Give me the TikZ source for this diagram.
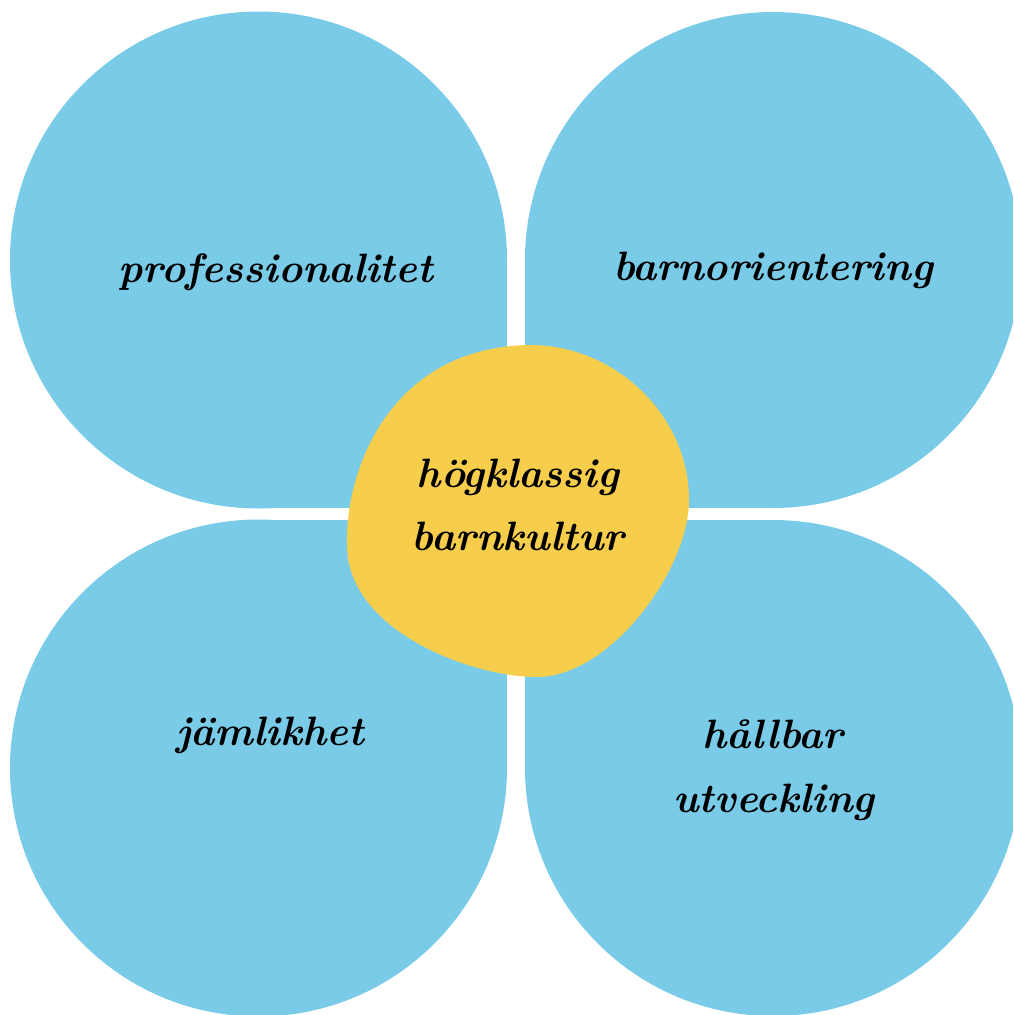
\documentclass[tikz,border=0pt]{standalone}
\definecolor{petal}{RGB}{122,203,232}
\definecolor{core}{RGB}{247,205,76}
\begin{document}
\begin{tikzpicture}[x=1pt,y=-1pt,
  lbl/.style={inner sep=0pt, anchor=base, text=black,
    font=\fontsize{41}{50}\selectfont\bfseries\itshape}]
\useasboundingbox (0,0) rectangle (1013,1015);
\clip (0,0) rectangle (1013,1015);
% petals
\fill[petal] (258.5,260) circle[radius=248.5];
\fill[petal] (258.5,260) rectangle (507,508);
\fill[petal] (773,260) circle[radius=248];
\fill[petal] (525,260) rectangle (773,508);
\fill[petal] (258.5,768) circle[radius=248.5];
\fill[petal] (258.5,520) rectangle (507,768);
\fill[petal] (773,768) circle[radius=248];
\fill[petal] (525,520) rectangle (773,768);
% centre blob
\fill[core] (530,345)
  .. controls (615,345) and (689,415) .. (689,500)
  .. controls (689,570) and (610,677) .. (537,677)
  .. controls (470,677) and (347,630) .. (347,545)
  .. controls (345,470) and (390,347) .. (530,345) -- cycle;
% labels
\node[lbl] (prof) at (276,282) {professionalitet};
\node[lbl] (barn) at (773,280) {barnorientering};
\node[lbl] (jam) at (270,745) {jämlikhet};
\node[lbl] (hallA) at (773,748) {hållbar};
\node[lbl] (hallB) at (774,812) {utveckling};
\node[lbl] (hogA) at (518,487) {högklassig};
\node[lbl] (hogB) at (518,550) {barnkultur};
\end{tikzpicture}
\end{document}
